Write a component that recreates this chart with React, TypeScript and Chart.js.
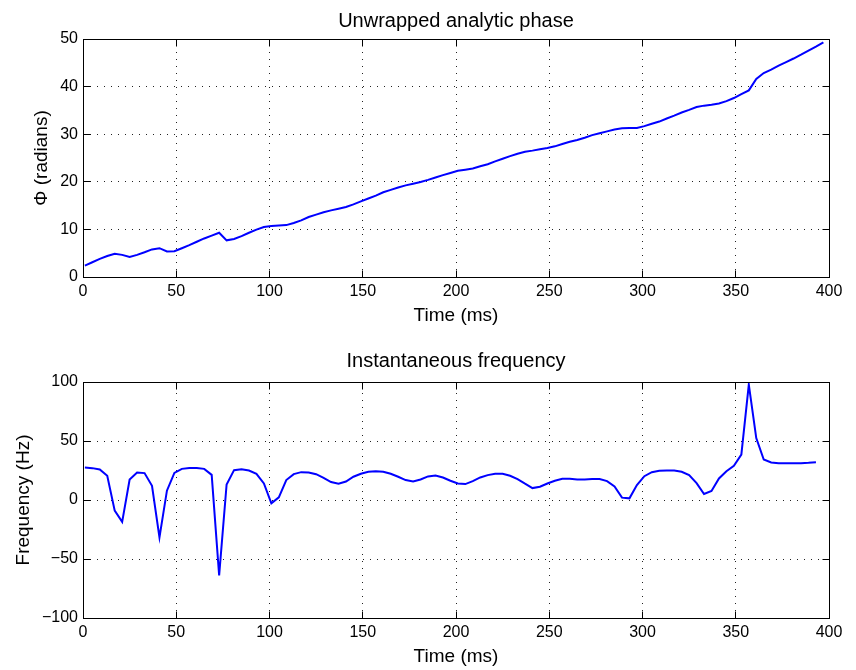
import React, { useEffect, useRef } from "react";
import { Chart, registerables } from "chart.js";

Chart.register(...registerables);

// ---- Data ----
const phaseTime = [
  1, 5, 9, 13, 17, 21, 25, 29, 33, 37, 41, 45, 49, 53, 57, 61, 65, 69, 73, 77,
  81, 85, 89, 93, 97, 101, 105, 109, 113, 117, 121, 125, 129, 133, 137, 141, 145, 149, 153, 157,
  161, 165, 169, 173, 177, 181, 185, 189, 193, 197, 201, 205, 209, 213, 217, 221, 225, 229, 233, 237,
  241, 245, 249, 253, 257, 261, 265, 269, 273, 277, 281, 285, 289, 293, 297, 301, 305, 309, 313, 317,
  321, 325, 329, 333, 337, 341, 345, 349, 353, 357, 361, 365, 369, 373, 377, 381, 385, 389, 393, 397,
];
const phase = [
  2.4, 3.1, 3.8, 4.4, 4.9, 4.65, 4.2, 4.65, 5.2, 5.8, 6.05, 5.35, 5.4, 6.05, 6.7, 7.4, 8.1, 8.7, 9.3, 7.7,
  8.0, 8.6, 9.3, 9.96, 10.5, 10.7, 10.8, 10.9, 11.35, 11.9, 12.6, 13.1, 13.6, 14.0, 14.35, 14.7, 15.25, 15.9, 16.5, 17.1,
  17.8, 18.3, 18.8, 19.25, 19.6, 19.95, 20.4, 20.9, 21.4, 21.85, 22.3, 22.55, 22.8, 23.25, 23.7, 24.3, 24.85, 25.4, 25.9, 26.3,
  26.55, 26.85, 27.1, 27.45, 27.95, 28.4, 28.8, 29.25, 29.8, 30.2, 30.6, 31.0, 31.25, 31.3, 31.3, 31.7, 32.2, 32.65, 33.3, 33.9,
  34.55, 35.1, 35.7, 36.0, 36.2, 36.45, 36.95, 37.6, 38.4, 39.2, 41.6, 42.85, 43.55, 44.4, 45.15, 45.9, 46.7, 47.55, 48.4, 49.3,
];
const freqTime = [
  1, 5, 9, 13, 17, 21, 25, 29, 33, 37, 41, 45, 49, 53, 57, 61, 65, 69, 73, 77,
  81, 85, 89, 93, 97, 101, 105, 109, 113, 117, 121, 125, 129, 133, 137, 141, 145, 149, 153, 157,
  161, 165, 169, 173, 177, 181, 185, 189, 193, 197, 201, 205, 209, 213, 217, 221, 225, 229, 233, 237,
  241, 245, 249, 253, 257, 261, 265, 269, 273, 277, 281, 285, 289, 293, 297, 301, 305, 309, 313, 317,
  321, 325, 329, 333, 337, 341, 345, 349, 353, 357, 361, 365, 369, 373, 377, 381, 385, 389, 393,
];
const freq = [
  27.5, 27, 25.8, 20.5, -9, -18.5, 17.4, 23.3, 22.8, 12, -31.7, 7.9, 23, 26.4, 27.2, 27.2, 26.4, 21.3, -64, 13.2,
  25.3, 26.1, 25, 22.2, 14, -2.8, 2.2, 16.9, 21.9, 23.6, 23.3, 21.9, 18.8, 15.2, 13.8, 15.7, 19.7, 22.2, 23.9, 24.4,
  23.9, 22.2, 19.7, 16.9, 15.7, 17.4, 20, 20.8, 19.1, 16.3, 14, 13.5, 16, 19.1, 21.1, 22.2, 22.2, 20.5, 17.7, 13.8,
  10.1, 11.2, 14, 16.3, 18, 18, 17.4, 17.4, 17.7, 17.7, 16, 11.5, 2, 1.4, 12.6, 20.2, 23.6, 24.7, 25, 25,
  23.9, 21.1, 14.3, 5.1, 7.6, 18.3, 24.4, 29, 38.5, 97.8, 52.5, 34.3, 31.8, 31.2, 31.2, 31.2, 31.2, 31.5, 32,
];

const timeRange = [0, 400];
const timeStep = 50;
const phaseRange = [0, 50];
const phaseStep = 10;
const freqRange = [-100, 100];
const freqStep = 50;

const FONT = '"Liberation Sans", Arial, Helvetica, sans-serif';

const alignPx = (v: number) => Math.round(v - 0.5) + 0.5;

// dotted MATLAB-style grid, drawn under the data
const dottedGridPlugin = {
  id: "dottedGrid",
  beforeDatasetsDraw(chart: any) {
    const { ctx, chartArea } = chart;
    const { left, right, top, bottom } = chartArea;
    const xs = chart.scales.x;
    const ys = chart.scales.y;
    ctx.save();
    ctx.strokeStyle = "#222";
    ctx.lineWidth = 1;
    ctx.setLineDash([1, 6]);
    ctx.beginPath();
    xs.ticks.forEach((t: any) => {
      const p = alignPx(xs.getPixelForValue(t.value));
      ctx.moveTo(p, bottom);
      ctx.lineTo(p, top);
    });
    ys.ticks.forEach((t: any) => {
      const p = alignPx(ys.getPixelForValue(t.value));
      ctx.moveTo(left, p);
      ctx.lineTo(right, p);
    });
    ctx.stroke();
    ctx.restore();
  },
};

// box around the axes with inward tick marks on all four sides
const boxPlugin = {
  id: "matlabBox",
  afterDatasetsDraw(chart: any) {
    const { ctx, chartArea } = chart;
    const { left, right, top, bottom } = chartArea;
    const xs = chart.scales.x;
    const ys = chart.scales.y;
    const L = alignPx(left), R = alignPx(right), T = alignPx(top), B = alignPx(bottom);
    const tl = 7;
    ctx.save();
    ctx.strokeStyle = "#000";
    ctx.lineWidth = 1;
    ctx.setLineDash([]);
    ctx.beginPath();
    xs.ticks.forEach((t: any) => {
      const p = alignPx(xs.getPixelForValue(t.value));
      ctx.moveTo(p, B);
      ctx.lineTo(p, B - tl);
      ctx.moveTo(p, T);
      ctx.lineTo(p, T + tl);
    });
    ys.ticks.forEach((t: any) => {
      const p = alignPx(ys.getPixelForValue(t.value));
      ctx.moveTo(L, p);
      ctx.lineTo(L + tl, p);
      ctx.moveTo(R, p);
      ctx.lineTo(R - tl, p);
    });
    ctx.stroke();
    ctx.strokeRect(L, T, R - L, B - T);
    ctx.restore();
  },
};

function makeConfig(opts: {
  xs: number[];
  ys: number[];
  title: string;
  yTitle: string;
  yRange: number[];
  yStep: number;
  titlePad: { top: number; bottom: number };
  yTitlePad: number;
  bottomPad: number;
}): any {
  const data = opts.xs.map((x, i) => ({ x, y: opts.ys[i] }));
  const fmt = (v: any) => String(v).replace("-", "\u2212");
  return {
    type: "line",
    data: {
      datasets: [
        {
          data,
          borderColor: "#0000ff",
          borderWidth: 2,
          pointRadius: 0,
          tension: 0,
          fill: false,
        },
      ],
    },
    options: {
      responsive: false,
      animation: false,
      devicePixelRatio: 1,
      layout: { padding: { left: 0, right: 27, top: 0, bottom: opts.bottomPad } },
      plugins: {
        legend: { display: false },
        tooltip: { enabled: false },
        title: {
          display: true,
          text: opts.title,
          fullSize: false,
          color: "#000",
          font: { family: FONT, size: 20, weight: "normal", lineHeight: 1.2 },
          padding: opts.titlePad,
        },
      },
      scales: {
        x: {
          type: "linear",
          min: timeRange[0],
          max: timeRange[1],
          afterFit: (s: any) => {
            s.height = 50;
          },
          ticks: {
            stepSize: timeStep,
            autoSkip: false,
            maxRotation: 0,
            padding: 5,
            color: "#000",
            font: { family: FONT, size: 16, lineHeight: 1.2 },
            callback: fmt,
          },
          grid: { display: false, drawTicks: false },
          border: { display: true, color: "#000", width: 1 },
          title: {
            display: true,
            text: "Time (ms)",
            color: "#000",
            font: { family: FONT, size: 19, lineHeight: 1.2 },
            padding: { top: 0, bottom: 0 },
          },
        },
        y: {
          type: "linear",
          min: opts.yRange[0],
          max: opts.yRange[1],
          afterFit: (s: any) => {
            s.width = 83;
          },
          ticks: {
            stepSize: opts.yStep,
            autoSkip: false,
            padding: 5,
            color: "#000",
            font: { family: FONT, size: 16, lineHeight: 1.2 },
            callback: fmt,
          },
          grid: { display: false, drawTicks: false },
          border: { display: true, color: "#000", width: 1 },
          title: {
            display: true,
            text: opts.yTitle,
            color: "#000",
            font: { family: FONT, size: 19, lineHeight: 1.2 },
            padding: { top: opts.yTitlePad, bottom: 0 },
          },
        },
      },
    },
    plugins: [dottedGridPlugin, boxPlugin],
  };
}

function Panel({ config }: { config: any }) {
  const ref = useRef<HTMLCanvasElement | null>(null);
  useEffect(() => {
    if (!ref.current) return;
    const chart = new Chart(ref.current, config);
    return () => chart.destroy();
  }, [config]);
  return (
    <canvas
      ref={ref}
      width={856}
      height={335}
      style={{ display: "block", width: 856, height: 335 }}
    />
  );
}

const topConfig = makeConfig({
  xs: phaseTime,
  ys: phase,
  title: "Unwrapped analytic phase",
  yTitle: "\u03A6 (radians)",
  yRange: phaseRange,
  yStep: phaseStep,
  titlePad: { top: 9, bottom: 6 },
  yTitlePad: 30,
  bottomPad: 8,
});

const bottomConfig = makeConfig({
  xs: freqTime,
  ys: freq,
  title: "Instantaneous frequency",
  yTitle: "Frequency (Hz)",
  yRange: freqRange,
  yStep: freqStep,
  titlePad: { top: 14, bottom: 9 },
  yTitlePad: 12,
  bottomPad: 2,
});

export default function App() {
  return (
    <div
      style={{
        position: "absolute",
        left: 0,
        top: 0,
        width: 856,
        height: 670,
        background: "#fff",
      }}
    >
      <Panel config={topConfig} />
      <Panel config={bottomConfig} />
    </div>
  );
}
